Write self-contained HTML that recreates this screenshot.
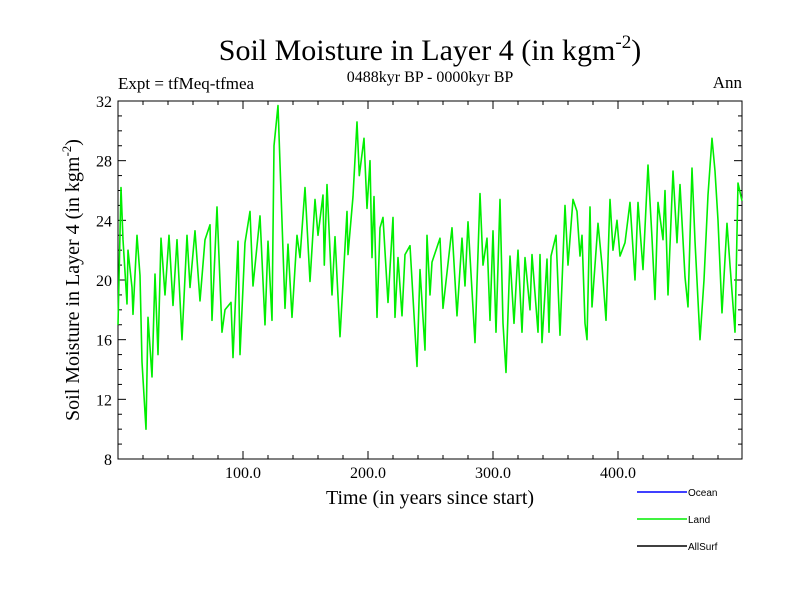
<!DOCTYPE html>
<html><head><meta charset="utf-8"><style>
body{margin:0;background:#fff}
svg text{font-family:"Liberation Serif",serif}
</style></head><body>
<svg id="chart" width="800" height="600" viewBox="0 0 800 600" xmlns="http://www.w3.org/2000/svg">
<rect width="800" height="600" fill="#fff"/>
<text x="430" y="60" font-size="30" text-anchor="middle">Soil Moisture in Layer 4 (in kgm<tspan dy="-12" font-size="19">-2</tspan><tspan dy="12">)</tspan></text>
<text x="118" y="89" font-size="17">Expt = tfMeq-tfmea</text>
<text x="430" y="82" font-size="16" text-anchor="middle">0488kyr BP - 0000kyr BP</text>
<text x="742" y="88" font-size="17" text-anchor="end">Ann</text>
<g id="axes"></g>
<g id="plot"></g>
<text x="430" y="504" font-size="20" text-anchor="middle">Time (in years since start)</text>
<text transform="translate(79,280) rotate(-90)" font-size="20" text-anchor="middle">Soil Moisture in Layer 4 (in kgm<tspan dy="-8" font-size="13">-2</tspan><tspan dy="8">)</tspan></text>
<g font-family="Liberation Sans, sans-serif">
<line x1="637" y1="492" x2="687" y2="492" stroke="#0000ff" stroke-width="1.5"/>
<text x="688" y="496" font-size="10" style="font-family:'Liberation Sans',sans-serif">Ocean</text>
<line x1="637" y1="519" x2="687" y2="519" stroke="#00ee00" stroke-width="1.5"/>
<text x="688" y="523" font-size="10" style="font-family:'Liberation Sans',sans-serif">Land</text>
<line x1="637" y1="546" x2="687" y2="546" stroke="#000" stroke-width="1.5"/>
<text x="688" y="550" font-size="10" style="font-family:'Liberation Sans',sans-serif">AllSurf</text>
</g>
</svg>
<script>
const years=[0,2.4,4,7.2,8,11.2,12,15.2,17.6,19.2,22.4,24,27.2,29.6,32,34.4,37.6,40.8,44,47.2,51.2,55.2,57.6,61.6,65.6,69.6,73.6,75.2,79.2,83.2,85.6,90.4,92,96,97.6,101.6,105.6,108,113.6,117.6,120,123.2,124.8,128,133.6,136,139.2,143.2,145.6,149.6,153.6,157.6,160,164,165,167.2,171.2,173.6,177.6,183.2,184,188,191.2,193,196.8,199.2,201.6,203.2,204.8,207.2,209.6,212,216,220,221.6,224,227.2,229.6,233.6,239.2,241.6,245.6,247.2,249.6,251.2,257.6,260,267.2,271.2,275.2,277.6,280,285.6,289.6,292,295.2,297.6,300,302.4,305.6,308,310.4,313.6,316.8,320,323.2,325.6,329.6,331.2,336,337.6,339.2,343.2,344.8,346.4,350.4,353.6,357.6,360,364,367.2,369.6,371.2,373.6,375.2,377.6,379.2,384,387.2,390.4,393.6,396,399.2,401.6,405.6,409.6,413.6,416,420,424,427.2,429.6,432,436,437.6,440,444,447.2,449.6,453.6,456,459.2,461.6,465.6,468.8,472,475.2,477.6,480,483.2,487.2,489.6,493.6,496,499.2];
const landValues=[17,26.2,22.7,18.4,22,19.5,17.7,23,20.3,14.5,10,17.5,13.5,20.4,15,22.8,19,23,18.3,22.7,16,23,19.5,23.3,18.6,22.7,23.7,17.3,24.9,16.5,18,18.5,14.8,22.6,15,22.5,24.6,19.6,24.3,17,22.6,17.3,29,31.7,18.1,22.4,17.5,23,21.5,26.2,19.9,25.4,23,25.7,21,26.4,19,22.9,16.2,24.6,21.7,25.6,30.6,27,29.5,24.8,28,21.5,25.6,17.5,23.5,24.2,18.5,24.2,17.5,21.5,17.6,21.7,22.3,14.2,20.7,15.3,23,19,21.2,22.8,18.1,23.5,17.6,22.8,19.6,23.9,15.8,25.8,21,22.8,17.3,23.3,16.5,25.4,17.1,13.8,21.6,17.1,22,16.5,21.5,18,21.7,16.5,21.7,15.8,21.4,16.5,21.6,23,16.3,25,21,25.4,24.6,21.6,23,17.1,16,24.9,18.2,23.8,21,17.3,25.4,22,24,21.6,22.5,25.2,20,25.2,20.7,27.7,22.8,18.7,25.2,22.7,26,19,27.3,22.5,26.4,20.2,18.2,27.5,22.6,16,20,25.7,29.5,27.3,24,17.8,23.8,21,16.5,26.5,25.3];
const yTicks=[8,12,16,20,24,28,32];
const xTicks=[100,200,300,400];
const xTickLabels=["100.0","200.0","300.0","400.0"];
const L=118,R=742,T=101,B=459,X0=0,X1=499.2,Y0=8,Y1=32;
const sx=v=>L+(v-X0)/(X1-X0)*(R-L);
const sy=v=>B-(v-Y0)/(Y1-Y0)*(B-T);
const NS="http://www.w3.org/2000/svg";
const axes=document.getElementById('axes'),plot=document.getElementById('plot');
function mk(tag,attrs,parent){const e=document.createElementNS(NS,tag);for(const k in attrs)e.setAttribute(k,attrs[k]);parent.appendChild(e);return e;}
const frame=mk('rect',{x:L,y:T,width:R-L,height:B-T,fill:'none',stroke:'#000','stroke-width':1},axes);


for(let v=Y0;v<=Y1;v+=1){const maj=yTicks.includes(v);const len=maj?8:4;const y=sy(v);
mk('line',{x1:L,y1:y,x2:L+len,y2:y,stroke:'#000'},axes);
mk('line',{x1:R,y1:y,x2:R-len,y2:y,stroke:'#000'},axes);}
yTicks.forEach(v=>{const t=mk('text',{x:L-6,y:sy(v)+6,'font-size':16,'text-anchor':'end'},axes);t.textContent=v;

});
for(let v=20;v<X1;v+=20){const maj=v%100===0;const len=maj?8:4;const x=sx(v);
mk('line',{x1:x,y1:B,x2:x,y2:B-len,stroke:'#000'},axes);
mk('line',{x1:x,y1:T,x2:x,y2:T+len,stroke:'#000'},axes);}
xTicks.forEach((v,i)=>{const t=mk('text',{x:sx(v),y:478,'font-size':16,'text-anchor':'middle'},axes);t.textContent=xTickLabels[i];

});
const d=years.map((y,i)=>(i?'L':'M')+sx(y).toFixed(1)+','+sy(landValues[i]).toFixed(1)).join('');
const line=mk('path',{d:d,fill:'none',stroke:'#00ee00','stroke-width':1.6,'stroke-linejoin':'round'},plot);


</script>
</body></html>
